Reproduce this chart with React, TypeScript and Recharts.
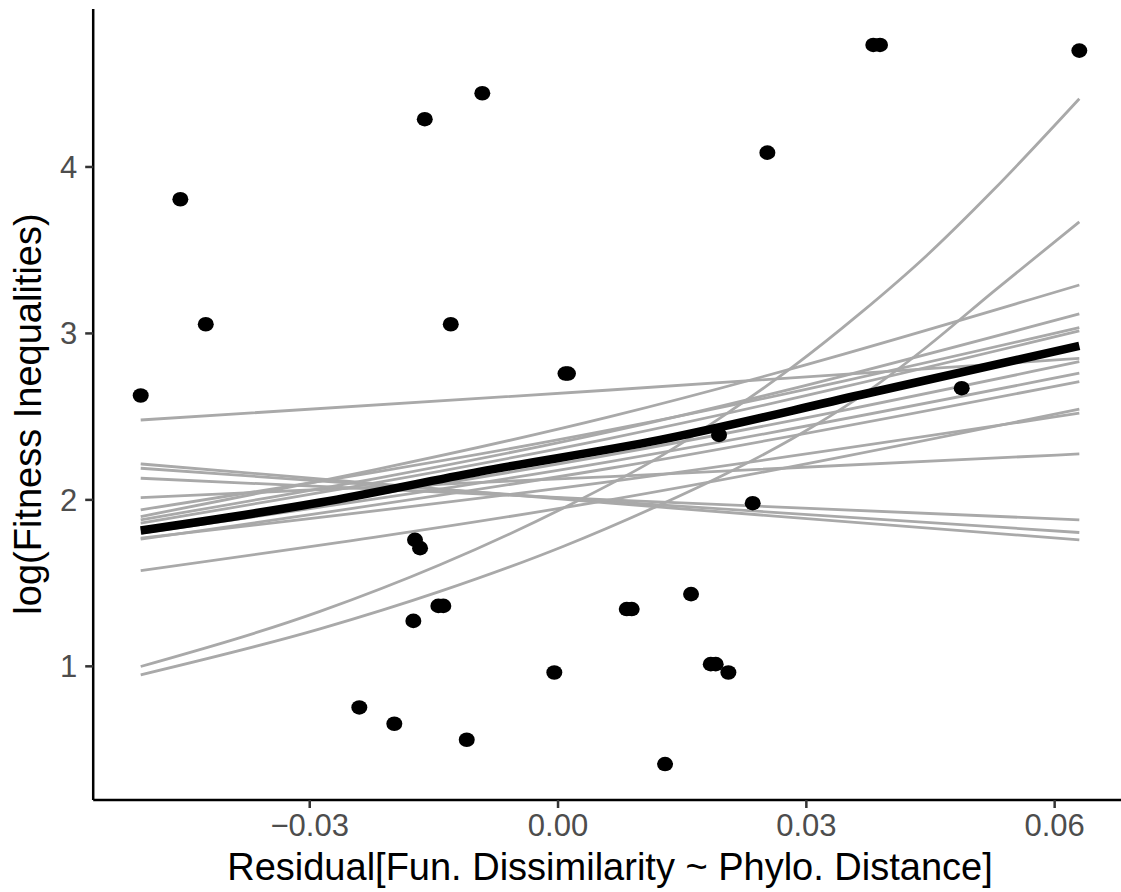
import { ComposedChart, Line, Scatter, XAxis, YAxis, Label } from "recharts"

// axis setup
const xTicks = [-0.03, 0, 0.03, 0.06]
const yTicks = [1, 2, 3, 4]
const xDomain = [-0.05616, 0.06874]
const yDomain = [0.197, 4.949]

// observed points
const pointX = [
  -0.05042, -0.04563, -0.04256, -0.0161, -0.00915, -0.01296, 0.0009, 0.0012,
  -0.01728, -0.01667, -0.01446, -0.01386, -0.01748, -0.02401, -0.01978, -0.01103,
  -0.00045, 0.0083, 0.0089, 0.01607, 0.01845, 0.01905, 0.02058, 0.01293,
  0.02352, 0.01945, 0.02529, 0.03809, 0.0389, 0.04877, 0.06298,
]
const pointY = [
  2.627, 3.806, 3.055, 4.287, 4.443, 3.055, 2.759, 2.759,
  1.76, 1.71, 1.363, 1.363, 1.273, 0.753, 0.655, 0.559,
  0.963, 1.344, 1.344, 1.434, 1.013, 1.013, 0.963, 0.413,
  1.98, 2.39, 4.086, 4.733, 4.733, 2.671, 4.699,
]

// grey posterior draws (start, middle, end)
const lineX = [-0.05042, 0.00628, 0.06298]
const grayLines = [
  [2.48, 2.66, 2.85],
  [2.014, 2.14, 2.276],
  [1.94, 2.42, 3.035],
  [1.9, 2.5, 3.291],
  [1.88, 2.41, 3.117],
  [1.86, 2.37, 3.015],
  [1.82, 2.27, 2.83],
  [1.8, 2.23, 2.761],
  [1.764, 2.19, 2.711],
  [1.575, 2.0, 2.545],
  [1.77, 2.11, 2.521],
  [2.216, 1.98, 1.76],
  [2.19, 1.99, 1.804],
  [2.13, 2.0, 1.88],
]

// the two strongly curved draws
const curveX = [-0.05042, -0.02876, -0.01426, 0.0006, 0.01232, 0.02042, 0.02839, 0.03649, 0.04458, 0.05256, 0.06298]
const curveA = [0.999, 1.33, 1.61, 1.95, 2.26, 2.52, 2.8, 3.12, 3.47, 3.86, 4.41]
const curveB = [0.949, 1.225, 1.45, 1.72, 1.97, 2.16, 2.37, 2.62, 2.92, 3.25, 3.67]

// mean fit (black)
const fitX = [-0.05042, -0.02876, -0.00942, 0.01232, 0.03649, 0.06298]
const fitY = [1.816, 1.984, 2.17, 2.36, 2.63, 2.925]

const toRows = (xs: number[], ys: number[]) => xs.map((x, i) => ({ x, y: ys[i] }))

const points = toRows(pointX, pointY)
const FONT = "'Liberation Sans', Arial, Helvetica, sans-serif"

function formatX(v: number) {
  if (v === 0) return "0.00"
  return (v < 0 ? "\u2212" : "") + Math.abs(v).toFixed(2)
}

export default function App() {
  return (
    <div style={{ position: "absolute", left: 0, top: 0, width: 1121, height: 892, overflow: "hidden", background: "#fff" }}>
      <ComposedChart width={1127} height={892} margin={{ top: 9, right: 0, bottom: 0, left: 0 }}>
        <XAxis
          type="number"
          dataKey="x"
          domain={xDomain}
          ticks={xTicks}
          allowDataOverflow
          height={92}
          tickFormatter={formatX}
          axisLine={{ stroke: "#000", strokeWidth: 2.5 }}
          tickLine={{ stroke: "#333", strokeWidth: 2.5 }}
          tickSize={8}
          tickMargin={6}
          tick={{ fill: "#4D4D4D", fontSize: 31, fontFamily: FONT }}
        >
          <Label
            content={() => (
              <text x={610} y={880} textAnchor="middle" fontSize={38} fontFamily={FONT} fill="#000">
                Residual[Fun. Dissimilarity ~ Phylo. Distance]
              </text>
            )}
          />
        </XAxis>
        <YAxis
          type="number"
          dataKey="y"
          domain={yDomain}
          ticks={yTicks}
          allowDataOverflow
          width={93.2}
          axisLine={{ stroke: "#000", strokeWidth: 2.5 }}
          tickLine={{ stroke: "#333", strokeWidth: 2.5 }}
          tickSize={8}
          tickMargin={8}
          tick={{ fill: "#4D4D4D", fontSize: 31, fontFamily: FONT }}
        >
          <Label
            content={() => (
              <text
                x={41}
                y={414}
                transform="rotate(-90 41 414)"
                textAnchor="middle"
                fontSize={38}
                fontFamily={FONT}
                fill="#000"
              >
                log(Fitness Inequalities)
              </text>
            )}
          />
        </YAxis>

        {grayLines.map((ys, i) => (
          <Line
            key={"g" + i}
            data={toRows(lineX, ys)}
            dataKey="y"
            type="monotone"
            stroke="#A9A9A9"
            strokeWidth={2.8}
            dot={false}
            activeDot={false}
            isAnimationActive={false}
          />
        ))}
        <Line data={toRows(curveX, curveA)} dataKey="y" type="monotone" stroke="#A9A9A9" strokeWidth={2.8} dot={false} activeDot={false} isAnimationActive={false} />
        <Line data={toRows(curveX, curveB)} dataKey="y" type="monotone" stroke="#A9A9A9" strokeWidth={2.8} dot={false} activeDot={false} isAnimationActive={false} />
        <Line data={toRows(fitX, fitY)} dataKey="y" type="monotone" stroke="#000" strokeWidth={8.5} dot={false} activeDot={false} isAnimationActive={false} />

        <Scatter
          data={points}
          fill="#000"
          isAnimationActive={false}
          shape={(p: any) => <ellipse cx={p.cx} cy={p.cy} rx={8} ry={7.3} fill="#000" />}
        />
      </ComposedChart>
    </div>
  )
}
